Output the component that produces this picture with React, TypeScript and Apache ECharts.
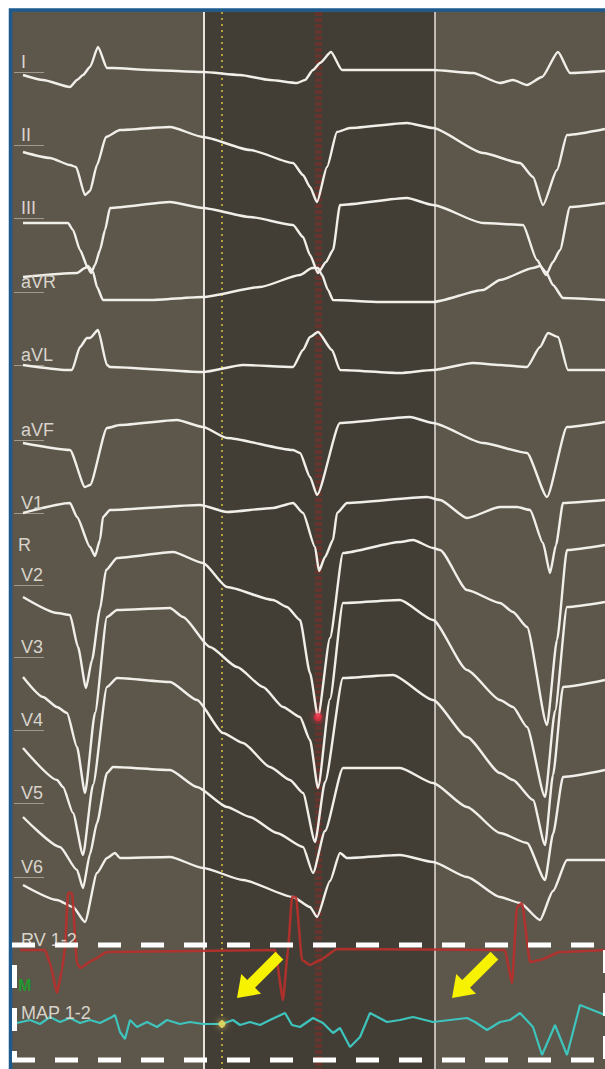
import React, { useEffect, useRef } from "react";
import * as echarts from "echarts";

const W = 605;
const H = 1069;

// ---- data: [time (sample units), deflection (positive = up)] ----
const LEAD_I: [number, number][] = [[23,-3],[43,-8],[70,-15],[77,-8],[83,-3],[90,5],[98,25],[107,4],[113,4],[150,2],[203,0],[240,-3],[270,-8],[297,-11],[305,-8],[313,2],[320,9],[331,20],[342,2],[380,2],[433,2],[473,-1],[500,-11],[513,-8],[527,-13],[542,-5],[558,20],[570,-1],[605,1]];
const LEAD_II: [number, number][] = [[23,-7],[50,-13],[70,-20],[76,-22],[85,-50],[90,-46],[97,-20],[106,8],[120,15],[170,18],[203,8],[250,-5],[293,-18],[303,-30],[310,-42],[317,-57],[327,-22],[337,13],[350,17],[407,22],[433,17],[483,-8],[520,-18],[533,-32],[543,-60],[557,-25],[567,10],[605,16]];
const LEAD_III: [number, number][] = [[23,-5],[68,-5],[73,-12],[80,-32],[88,-50],[91,-55],[95,-47],[100,-32],[105,-12],[110,10],[170,16],[203,10],[250,1],[293,-7],[303,-19],[310,-37],[318,-55],[326,-44],[333,-32],[340,13],[407,20],[433,13],[483,-5],[523,-7],[537,-42],[546,-57],[553,-44],[560,-32],[570,11],[605,15]];
const LEAD_AVR: [number, number][] = [[23,15],[77,19],[85,24],[88,26],[93,20],[97,5],[103,-8],[150,-8],[203,-5],[260,5],[300,17],[312,24],[318,24],[322,17],[328,2],[333,-8],[380,-10],[433,-10],[483,2],[500,12],[533,24],[540,26],[546,20],[553,7],[563,-6],[605,-8]];
const LEAD_AVL: [number, number][] = [[23,0],[67,-5],[72,-5],[80,18],[87,27],[90,27],[98,35],[107,0],[110,-2],[203,-7],[243,0],[293,-2],[303,15],[310,28],[318,33],[332,15],[340,-5],[400,-8],[433,-5],[473,2],[500,0],[527,-2],[540,18],[548,32],[558,28],[568,-5],[605,-5]];
const LEAD_AVF: [number, number][] = [[23,-3],[70,-10],[85,-47],[90,-45],[107,12],[120,15],[177,20],[203,13],[227,2],[293,-10],[300,-13],[310,-37],[317,-55],[340,17],[410,23],[433,17],[483,-3],[527,-13],[547,-57],[567,13],[605,18]];
const LEAD_V1: [number, number][] = [[23,0],[70,10],[77,-4],[90,-34],[95,-43],[100,-27],[103,-4],[110,3],[200,8],[227,1],[273,5],[293,10],[303,0],[315,-34],[319,-58],[325,-44],[333,-27],[337,0],[347,10],[427,16],[440,13],[467,-5],[500,6],[517,6],[530,3],[543,-30],[550,-60],[556,-32],[563,10],[605,13]];
const LEAD_V2: [number, number][] = [[23,-12],[57,-28],[70,-30],[78,-62],[86,-103],[92,-75],[100,-24],[106,15],[117,27],[173,33],[203,22],[227,-2],[273,-15],[287,-22],[300,-35],[310,-88],[318,-132],[330,-53],[343,32],[400,43],[413,45],[433,37],[440,35],[467,-5],[500,-18],[513,-27],[527,-42],[547,-140],[557,-55],[567,35],[605,40]];
const LEAD_V3: [number, number][] = [[23,-20],[43,-40],[57,-50],[67,-56],[77,-90],[85,-136],[95,-56],[107,40],[117,47],[170,49],[183,40],[210,10],[237,-10],[263,-30],[283,-50],[300,-60],[310,-83],[318,-131],[330,-42],[343,54],[400,57],[433,37],[467,-13],[500,-43],[513,-50],[527,-70],[545,-140],[555,-54],[567,50],[605,55]];
const LEAD_V4: [number, number][] = [[23,-18],[57,-50],[63,-57],[73,-83],[83,-125],[93,-55],[107,43],[117,52],[170,48],[197,30],[223,-3],[243,-13],[270,-37],[290,-50],[303,-63],[315,-112],[325,-52],[343,52],[393,55],[433,30],[467,-7],[500,-43],[513,-50],[533,-70],[545,-115],[553,-45],[563,43],[605,50]];
const LEAD_V5: [number, number][] = [[23,-14],[60,-44],[77,-67],[83,-85],[90,-51],[97,-20],[107,30],[113,36],[170,33],[197,16],[227,-4],[250,-14],[277,-30],[303,-44],[313,-70],[325,-28],[343,35],[400,35],[433,20],[467,-4],[500,-30],[527,-40],[545,-77],[553,-31],[563,26],[605,33]];
const LEAD_V6: [number, number][] = [[23,-8],[57,-23],[73,-30],[85,-45],[97,4],[107,19],[115,24],[120,19],[170,20],[203,9],[243,-3],[293,-20],[310,-30],[317,-40],[330,-4],[340,24],[347,19],[400,22],[433,15],[467,0],[500,-20],[520,-26],[540,-43],[553,-14],[567,17],[605,17]];
const RV_12: [number, number][] = [[20,0],[45,0],[50,-13],[57,-43],[62,-20],[65,3],[68,57],[72,57],[77,-13],[80,-18],[93,-10],[107,-2],[275,0],[283,-50],[288,0],[292,53],[296,53],[302,-10],[310,-15],[320,-10],[337,1],[505,0],[512,-33],[517,43],[522,47],[530,-12],[540,-10],[560,-2],[605,0]];
const MAP_12: [number, number][] = [[17,0],[30,3],[40,-1],[50,6],[60,1],[70,5],[80,0],[90,3],[100,0],[112,6],[115,8],[120,-9],[125,-16],[130,3],[137,-4],[147,1],[157,-4],[167,3],[180,-1],[190,1],[203,-1],[222,-1],[233,3],[240,-2],[250,1],[260,-2],[270,3],[285,10],[292,-2],[300,-4],[313,5],[323,0],[333,-10],[340,-5],[350,-24],[360,-14],[370,10],[387,1],[400,3],[413,6],[433,1],[450,3],[467,5],[475,1],[487,-7],[500,1],[510,3],[520,10],[533,-4],[542,-32],[555,-2],[567,-32],[580,18],[605,8]];

const LEAD_NAMES = ["I", "II", "III", "aVR", "aVL", "aVF", "V1", "V2", "V3", "V4", "V5", "V6"];
const LEAD_BASELINES = [72, 145, 218, 292, 365, 440, 513, 585, 657, 730, 803, 877];
const LEAD_SERIES = [LEAD_I, LEAD_II, LEAD_III, LEAD_AVR, LEAD_AVL, LEAD_AVF, LEAD_V1, LEAD_V2, LEAD_V3, LEAD_V4, LEAD_V5, LEAD_V6];
const INTRA_NAMES = ["RV 1-2", "MAP 1-2"];
const INTRA_BASELINES = [950, 1023];

const WINDOW_RANGE = [204, 435];
const CURSOR_YELLOW = 222;
const CURSOR_RED = 318;

const toData = (base: number, pts: [number, number][]) => pts.map(([t, v]) => [t, base - v]);

function arrowPoints(tx: number, ty: number) {
  const ux = -Math.SQRT1_2, uy = Math.SQRT1_2;
  const nx = Math.SQRT1_2, ny = Math.SQRT1_2;
  const bx = tx - ux * 20, by = ty - uy * 20;
  const cx = tx - ux * 60, cy = ty - uy * 60;
  const hw = 14, sw = 5.5;
  return [
    [tx, ty],
    [bx + nx * hw, by + ny * hw],
    [bx + nx * sw, by + ny * sw],
    [cx + nx * sw, cy + ny * sw],
    [cx - nx * sw, cy - ny * sw],
    [bx - nx * sw, by - ny * sw],
    [bx - nx * hw, by - ny * hw],
  ];
}

const FONT = '18px "Liberation Sans", Arial, sans-serif';
const LABEL_COLOR = "#d8d4cc";

function buildOption() {
  const series: any[] = [];
  series.push({
    type: "line",
    data: [],
    z: 1,
    silent: true,
    markArea: {
      silent: true,
      z: 1,
      itemStyle: { color: "#433e35" },
      data: [[{ coord: [WINDOW_RANGE[0], 12] }, { coord: [WINDOW_RANGE[1], H] }]],
    },
    markLine: {
      silent: true,
      z: 2,
      symbol: ["none", "none"],
      label: { show: false },
      data: [
        [{ coord: [CURSOR_YELLOW, 12], lineStyle: { color: "#b4a23c", width: 2, type: [2, 4] } }, { coord: [CURSOR_YELLOW, H] }],
        [{ coord: [CURSOR_RED, 12], lineStyle: { color: "rgba(130,44,38,0.55)", width: 7, type: [4, 2] } }, { coord: [CURSOR_RED, H] }],
        [{ coord: [WINDOW_RANGE[0], 12], lineStyle: { color: "#e6e3dc", width: 2, type: "solid" } }, { coord: [WINDOW_RANGE[0], H] }],
        [{ coord: [WINDOW_RANGE[1], 12], lineStyle: { color: "#e6e3dc", width: 1.5, type: "solid" } }, { coord: [WINDOW_RANGE[1], H] }],
      ],
    },
  });

  LEAD_SERIES.forEach((pts, i) => {
    const base = LEAD_BASELINES[i];
    series.push({
      type: "line",
      name: LEAD_NAMES[i],
      data: toData(base, pts),
      symbol: "none",
      silent: true,
      z: 3,
      smooth: 0.2,
      smoothMonotone: "x",
      lineStyle: { color: "#f1efe9", width: 2.4 },
      markLine: {
        silent: true,
        z: 3,
        symbol: ["none", "none"],
        label: { show: false },
        lineStyle: { color: "#9e988d", width: 1, type: "solid" },
        data: [[{ coord: [14, base] }, { coord: [44, base] }]],
      },
    });
  });

  series.push({
    type: "line",
    name: INTRA_NAMES[0],
    data: toData(INTRA_BASELINES[0], RV_12),
    symbol: "none",
    silent: true,
    z: 4,
    smooth: 0.15,
    smoothMonotone: "x",
    lineStyle: { color: "#b8302c", width: 2.6, opacity: 0.9 },
  });
  series.push({
    type: "line",
    name: INTRA_NAMES[1],
    data: toData(INTRA_BASELINES[1], MAP_12),
    symbol: "none",
    silent: true,
    z: 4,
    lineStyle: { color: "#3ec4bc", width: 2.2 },
  });

  const v2Pt = LEAD_V2.find((p) => p[0] === CURSOR_RED)!;
  const mapPt = MAP_12.find((p) => p[0] === CURSOR_YELLOW)!;
  series.push({
    type: "scatter",
    silent: true,
    z: 6,
    data: [
      { value: [v2Pt[0], LEAD_BASELINES[7] - v2Pt[1]], symbolSize: 8, itemStyle: { color: "#e82c44", shadowBlur: 6, shadowColor: "#ff3050" } },
      { value: [mapPt[0], INTRA_BASELINES[1] - mapPt[1]], symbolSize: 7, itemStyle: { color: "#eedc5a", shadowBlur: 6, shadowColor: "#f5e870" } },
    ],
  });

  const elements: any[] = [];
  elements.push({
    type: "rect",
    silent: true,
    z: -1,
    shape: { x: 10.5, y: 10, width: 640, height: 1100 },
    style: { fill: "#5d564b", stroke: "#1d5a8e", lineWidth: 3.5 },
  });
  LEAD_NAMES.forEach((n, i) => {
    elements.push({
      type: "text",
      silent: true,
      z: 50,
      style: { text: n, x: 21, y: LEAD_BASELINES[i] - 10, font: FONT, fill: LABEL_COLOR, textVerticalAlign: "middle", verticalAlign: "middle" },
    });
  });
  INTRA_NAMES.forEach((n, i) => {
    elements.push({
      type: "text",
      silent: true,
      z: 50,
      style: { text: n, x: 21, y: INTRA_BASELINES[i] - 10, font: FONT, fill: LABEL_COLOR, textVerticalAlign: "middle", verticalAlign: "middle" },
    });
  });
  elements.push({
    type: "text", silent: true, z: 50,
    style: { text: "R", x: 18, y: 545, font: FONT, fill: LABEL_COLOR, textVerticalAlign: "middle", verticalAlign: "middle" },
  });
  elements.push({
    type: "text", silent: true, z: 50,
    style: { text: "M", x: 18, y: 985, font: 'bold 16px "Liberation Sans", Arial, sans-serif', fill: "#22992e", textVerticalAlign: "middle", verticalAlign: "middle" },
  });

  const dash = { stroke: "#ffffff", lineWidth: 5, lineDash: [23, 20] };
  elements.push({ type: "line", silent: true, z: 60, shape: { x1: 12, y1: 945, x2: 620, y2: 945 }, style: dash });
  elements.push({ type: "line", silent: true, z: 60, shape: { x1: 12, y1: 1060, x2: 620, y2: 1060 }, style: dash });
  elements.push({ type: "line", silent: true, z: 60, shape: { x1: 14.5, y1: 965, x2: 14.5, y2: 1062 }, style: dash });
  elements.push({ type: "line", silent: true, z: 60, shape: { x1: 605.5, y1: 950, x2: 605.5, y2: 1062 }, style: dash });

  [[237, 998], [452, 998]].forEach(([tx, ty]) => {
    elements.push({
      type: "polygon",
      silent: true,
      z: 70,
      shape: { points: arrowPoints(tx, ty) },
      style: { fill: "#f7f200" },
    });
  });

  return {
    animation: false,
    backgroundColor: "#ffffff",
    grid: { left: 0, right: 0, top: 0, bottom: 0, containLabel: false },
    xAxis: { type: "value", min: 0, max: W, show: false },
    yAxis: { type: "value", min: 0, max: H, inverse: true, show: false },
    series,
    graphic: { elements },
  };
}

export default function App() {
  const ref = useRef<HTMLDivElement>(null);
  useEffect(() => {
    document.body.style.margin = "0";
    const chart = echarts.init(ref.current!, undefined, { renderer: "svg", width: W, height: H });
    chart.setOption(buildOption() as any);
    return () => chart.dispose();
  }, []);
  return <div ref={ref} style={{ position: "absolute", left: 0, top: 0, width: W, height: H }} />;
}
